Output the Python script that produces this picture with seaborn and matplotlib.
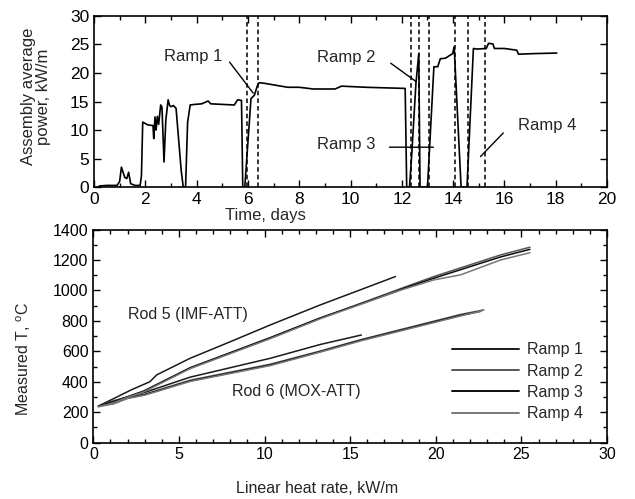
import numpy as np
import pandas as pd
import matplotlib
matplotlib.use("Agg")
import matplotlib.pyplot as plt
import seaborn as sns
from matplotlib.ticker import MultipleLocator

# Top panel: assembly average power history
time_days = [0.2, 0.5, 0.9, 1.0, 1.07, 1.2, 1.28, 1.35, 1.43, 1.6, 1.8, 1.85, 1.9, 2.1,
             2.3, 2.33, 2.38, 2.42, 2.47, 2.52, 2.6, 2.65, 2.73, 2.8, 2.89, 2.95, 3.0,
             3.1, 3.2, 3.4, 3.48, 3.57, 3.65, 3.75, 3.93, 4.2, 4.45, 4.55, 5.0, 5.47,
             5.6, 5.75, 5.8, 5.88, 5.96, 6.05, 6.12, 6.25, 6.38, 6.44, 6.64, 7.03, 7.55,
             8.0, 8.55, 9.4, 9.65, 10.6, 12.13, 12.19, 12.3, 12.39, 12.55, 12.66, 12.71,
             13.0, 13.25, 13.4, 13.5, 13.7, 13.98, 14.04, 14.31, 14.54, 14.79, 14.92,
             15.29, 15.38, 15.55, 15.61, 16.0, 16.48, 16.55, 17.13, 18.04]
power_kwm = [0.2, 0.3, 0.3, 1.0, 3.5, 1.7, 1.5, 2.6, 0.6, 0.3, 0.3, 2.0, 11.4, 10.9,
             10.8, 8.5, 12.3, 10.0, 12.4, 11.0, 14.4, 14.0, 4.4, 11.7, 15.3, 14.3, 14.1,
             14.3, 13.8, 2.9, 0.0, 0.0, 11.4, 14.4, 14.5, 14.6, 15.1, 14.6, 14.5, 14.4,
             15.3, 15.2, 0.0, 0.0, 5.3, 11.0, 15.5, 16.1, 17.9, 18.3, 18.2, 17.9, 17.5,
             17.5, 17.2, 17.2, 17.7, 17.5, 17.3, 0.0, 0.0, 6.0, 18.2, 23.4, 0.0,
             0.0, 21.1, 21.1, 22.5, 22.6, 23.4, 24.6, 0.0, 0.0, 24.3, 24.2,
             24.3, 25.2, 25.1, 24.3, 24.3, 24.0, 23.3, 23.4, 23.5]
ramp_bounds = [5.96, 6.41, 12.36, 12.67, 13.04, 14.08, 14.57, 15.25]

# Bottom panel: measured temperature vs linear heat rate
rod5_r1_x = [0.3, 1.2, 2.2, 3.3, 3.7, 5.65, 8.0, 10.33, 13.26, 15.5, 17.64]
rod5_r1_t = [240, 290, 346, 400, 445, 554, 663, 773, 905, 1000, 1091]
rod5_r2_x = [0.3, 1.2, 2.0, 2.92, 5.65, 10.33, 13.26, 17.9, 19.88, 21.44, 23.78, 25.5]
rod5_r2_t = [238, 272, 300, 335, 489, 686, 817, 1010, 1091, 1148, 1233, 1284]
rod5_r3_x = [0.3, 1.2, 2.0, 2.92, 5.65, 10.33, 13.26, 17.6, 17.9, 19.88, 23.78, 25.5]
rod5_r3_t = [240, 268, 302, 338, 492, 690, 820, 990, 1005, 1080, 1220, 1270]
rod5_r4_x = [0.3, 1.2, 2.0, 2.92, 5.65, 10.33, 13.26, 17.9, 19.88, 21.44, 23.78, 25.5]
rod5_r4_t = [236, 262, 298, 332, 486, 683, 814, 1000, 1069, 1102, 1200, 1248]
rod6_r1_x = [0.3, 1.2, 2.0, 3.0, 5.65, 10.33, 13.26, 15.65]
rod6_r1_t = [240, 275, 300, 330, 430, 554, 645, 707]
rod6_r2_x = [0.3, 1.2, 2.0, 3.0, 5.65, 10.33, 13.26, 15.6, 21.44, 22.8]
rod6_r2_t = [238, 262, 296, 318, 410, 515, 602, 676, 842, 872]
rod6_r3_x = [0.3, 1.2, 2.0, 3.0, 5.65, 10.33, 13.26, 15.6, 21.44, 22.6]
rod6_r3_t = [240, 258, 292, 315, 405, 510, 598, 672, 836, 862]
rod6_r4_x = [0.3, 1.2, 2.0, 3.0, 5.65, 10.33, 13.26, 15.6, 21.44, 22.7]
rod6_r4_t = [236, 255, 290, 312, 402, 506, 595, 668, 832, 866]

ramp_names = ["Ramp 1", "Ramp 2", "Ramp 3", "Ramp 4"]
ramp_colors = ["#1a1a1a", "#555555", "#0d0d0d", "#777777"]

sns.set_style("ticks")
plt.rcParams["font.family"] = ["Liberation Sans", "DejaVu Sans"]
plt.rcParams["mathtext.fontset"] = "custom"
plt.rcParams["mathtext.rm"] = "Liberation Sans"

# Build long table for the rod curves
rows = []
rod_series = {
    "Rod 5": [(rod5_r1_x, rod5_r1_t), (rod5_r2_x, rod5_r2_t), (rod5_r3_x, rod5_r3_t), (rod5_r4_x, rod5_r4_t)],
    "Rod 6": [(rod6_r1_x, rod6_r1_t), (rod6_r2_x, rod6_r2_t), (rod6_r3_x, rod6_r3_t), (rod6_r4_x, rod6_r4_t)],
}
for rod, series in rod_series.items():
    for name, (xs, ts) in zip(ramp_names, series):
        for x, t in zip(xs, ts):
            rows.append({"Rod": rod, "Ramp": name, "q": x, "T": t})
df_rods = pd.DataFrame(rows)
df_power = pd.DataFrame({"time": time_days, "power": power_kwm})

fig = plt.figure(figsize=(6.35, 4.99), dpi=100)
ax1 = fig.add_axes([0.148, 0.625, 0.808, 0.343])
ax2 = fig.add_axes([0.147, 0.113, 0.809, 0.427])


def style_axis(ax, size):
    for sp in ax.spines.values():
        sp.set_visible(True)
        sp.set_linewidth(1.2)
        sp.set_color("black")
    ax.tick_params(which="both", direction="in", top=True, right=True,
                   labelsize=size, colors="black", width=1.0)
    ax.tick_params(which="major", length=5)
    ax.tick_params(which="minor", length=3)


# Top panel
sns.lineplot(data=df_power, x="time", y="power", ax=ax1, color="black",
             linewidth=1.2, estimator=None, sort=False)
for xb in ramp_bounds:
    ax1.axvline(xb, color="black", linestyle=(0, (3, 2)), linewidth=1.1)
ax1.set_xlim(0, 20)
ax1.set_ylim(0, 30)
ax1.xaxis.set_major_locator(MultipleLocator(2))
ax1.xaxis.set_minor_locator(MultipleLocator(1))
ax1.yaxis.set_major_locator(MultipleLocator(5))
style_axis(ax1, 12.5)
ax1.set_xlabel("Time, days", fontsize=12)
ax1.xaxis.set_label_coords(0.335, -0.12)
ax1.set_ylabel("Assembly average\npower, kW/m", fontsize=12, linespacing=1.0)
ax1.yaxis.set_label_coords(-0.083, 0.53)

lead = dict(arrowprops=dict(arrowstyle="-", color="black", lw=1.0))
ax1.annotate("", xy=(6.27, 16.1), xytext=(5.22, 22.3), **lead)
ax1.text(4.99, 22.9, "Ramp 1", ha="right", va="center", fontsize=12)
ax1.annotate("", xy=(12.65, 18.2), xytext=(11.48, 22.0), **lead)
ax1.text(10.96, 22.8, "Ramp 2", ha="right", va="center", fontsize=12)
ax1.annotate("", xy=(13.34, 7.0), xytext=(11.41, 7.0), **lead)
ax1.text(10.96, 7.4, "Ramp 3", ha="right", va="center", fontsize=12)
ax1.annotate("", xy=(14.99, 5.0), xytext=(16.03, 9.85), **lead)
ax1.text(16.54, 10.85, "Ramp 4", ha="left", va="center", fontsize=12)

# Bottom panel
sns.lineplot(data=df_rods, x="q", y="T", hue="Ramp", units="Rod", estimator=None,
             sort=False, palette=ramp_colors, linewidth=1.1, ax=ax2)
ax2.set_xlim(0, 30)
ax2.set_ylim(0, 1400)
ax2.xaxis.set_major_locator(MultipleLocator(5))
ax2.xaxis.set_minor_locator(MultipleLocator(1))
ax2.yaxis.set_major_locator(MultipleLocator(200))
ax2.yaxis.set_minor_locator(MultipleLocator(100))
style_axis(ax2, 11.5)
ax2.set_xlabel("Linear heat rate, kW/m", fontsize=11.5)
ax2.xaxis.set_label_coords(0.435, -0.18)
ax2.set_ylabel("Measured T, $^{\\rm o}$C", fontsize=11.5)
ax2.yaxis.set_label_coords(-0.118, 0.39)
ax2.text(2.0, 839, "Rod 5 (IMF-ATT)", fontsize=11.5, va="center")
ax2.text(8.1, 334, "Rod 6 (MOX-ATT)", fontsize=11.5, va="center")
leg = ax2.legend(loc="center right", bbox_to_anchor=(0.982, 0.285), frameon=False,
                 fontsize=11.5, handlelength=4.2, handletextpad=0.5, labelspacing=0.4,
                 title=None)
for line in leg.get_lines():
    line.set_linewidth(1.4)

fig.savefig("out.png", dpi=100)
